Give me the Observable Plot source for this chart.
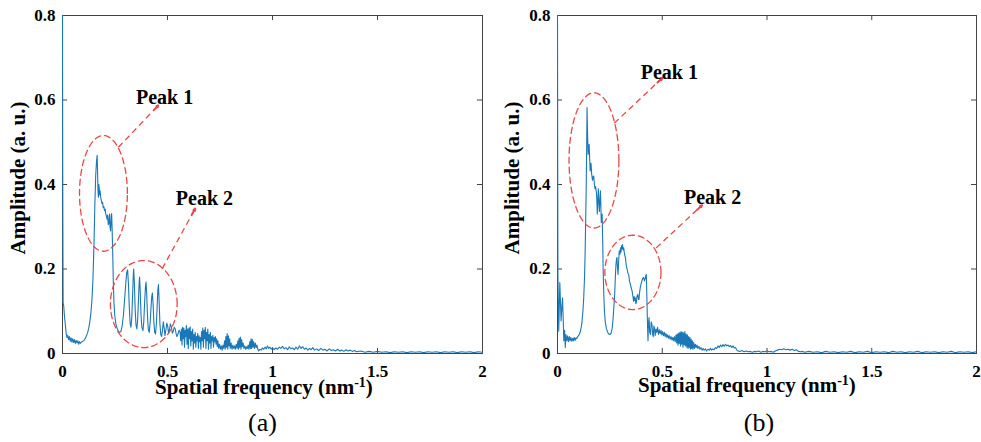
<!DOCTYPE html>
<html><head><meta charset="utf-8">
<script src="https://cdn.jsdelivr.net/npm/d3@7"></script>
<script src="https://cdn.jsdelivr.net/npm/@observablehq/plot@0.6"></script>
<style>
body{margin:0;background:#fff;}
#wrap{display:flex;width:981px;height:442px;}
#wrap svg{display:block;}
</style></head><body><div id="wrap"></div>
<script>
const xTicks = [0, 0.5, 1, 1.5, 2];
const yTicks = [0, 0.2, 0.4, 0.6, 0.8];
const panelTags = ["(a)", "(b)"];
const xTitle = "Spatial frequency (nm";
const xTitleSup = "-1";
const yTitle = "Amplitude (a. u.)";

// spectrum (a): [spatial frequency, amplitude]
const spectrumA = [
[0,0.80],[0.001,0.45],[0.003,0.12],[0.006,0.112],[0.009,0.09],[0.012,0.075],[0.015,0.06],[0.018,0.045],[0.021,0.038],
[0.025,0.043],[0.029,0.033],[0.033,0.040],[0.037,0.029],[0.041,0.037],[0.045,0.027],[0.049,0.035],[0.053,0.026],[0.057,0.033],
[0.061,0.024],[0.065,0.031],[0.069,0.025],[0.073,0.030],[0.077,0.022],[0.081,0.028],[0.085,0.024],[0.090,0.027],[0.095,0.028],
[0.100,0.030],[0.105,0.033],[0.110,0.037],[0.115,0.043],[0.120,0.050],[0.125,0.060],[0.130,0.075],[0.135,0.095],[0.140,0.125],
[0.145,0.175],[0.150,0.26],[0.154,0.35],[0.158,0.42],[0.162,0.455],[0.165,0.469],[0.167,0.43],[0.169,0.385],[0.171,0.37],
[0.173,0.40],[0.175,0.39],[0.177,0.375],[0.179,0.385],[0.182,0.37],[0.185,0.362],[0.188,0.355],[0.191,0.358],[0.194,0.345],
[0.197,0.348],[0.200,0.338],[0.203,0.342],[0.206,0.330],[0.209,0.325],[0.212,0.318],[0.215,0.328],[0.218,0.305],[0.221,0.31],
[0.224,0.33],[0.226,0.30],[0.229,0.29],[0.232,0.325],[0.234,0.331],[0.236,0.30],[0.239,0.24],[0.242,0.17],[0.245,0.12],
[0.249,0.09],[0.254,0.07],[0.260,0.06],[0.266,0.052],[0.272,0.05],[0.278,0.052],[0.284,0.065],[0.290,0.09],[0.296,0.13],
[0.302,0.170],[0.306,0.192],[0.310,0.198],[0.314,0.165],[0.318,0.11],[0.322,0.072],[0.326,0.062],[0.330,0.085],[0.334,0.14],
[0.337,0.185],[0.339,0.200],[0.342,0.17],[0.346,0.105],[0.350,0.068],[0.354,0.058],[0.358,0.08],[0.362,0.13],[0.365,0.168],
[0.367,0.181],[0.370,0.15],[0.374,0.09],[0.378,0.062],[0.383,0.054],[0.387,0.075],[0.391,0.12],[0.395,0.158],[0.398,0.169],
[0.401,0.14],[0.405,0.085],[0.409,0.056],[0.413,0.050],[0.417,0.07],[0.421,0.105],[0.425,0.135],[0.428,0.143],[0.431,0.12],
[0.435,0.075],[0.439,0.05],[0.443,0.046],[0.447,0.07],[0.451,0.115],[0.454,0.15],[0.457,0.163],[0.460,0.125],[0.464,0.07],
[0.468,0.045],[0.472,0.040],[0.476,0.055],[0.480,0.075],[0.484,0.06],[0.488,0.042],[0.492,0.055],[0.497,0.072],[0.501,0.065],
[0.505,0.048],[0.509,0.056],[0.514,0.070],[0.519,0.062],[0.523,0.048],[0.527,0.052],[0.532,0.062],[0.537,0.058],[0.541,0.047],
[0.545,0.04],[0.550,0.046],[0.555,0.055],[0.560,0.050],[0.563,0.030],[0.566,0.058],[0.569,0.020],[0.572,0.062],[0.575,0.035],
[0.578,0.060],[0.581,0.015],[0.584,0.055],[0.587,0.040],[0.590,0.066],[0.593,0.022],[0.596,0.058],[0.599,0.012],[0.602,0.060],
[0.605,0.035],[0.608,0.063],[0.611,0.018],[0.614,0.052],[0.617,0.030],[0.620,0.058],[0.623,0.010],[0.626,0.045],[0.629,0.025],
[0.632,0.050],[0.635,0.015],[0.638,0.040],[0.641,0.030],[0.644,0.047],[0.647,0.012],[0.650,0.042],[0.653,0.028],[0.656,0.038],
[0.659,0.010],[0.662,0.052],[0.665,0.030],[0.668,0.060],[0.671,0.015],[0.674,0.055],[0.677,0.035],[0.680,0.062],[0.683,0.012],
[0.686,0.050],[0.689,0.030],[0.692,0.058],[0.695,0.010],[0.698,0.045],[0.701,0.025],[0.704,0.050],[0.707,0.012],[0.710,0.040],
[0.713,0.030],[0.716,0.043],[0.719,0.015],[0.722,0.038],[0.725,0.028],[0.728,0.040],[0.731,0.022],[0.734,0.035],[0.737,0.016],
[0.740,0.030],[0.744,0.012],[0.748,0.022],[0.752,0.010],[0.756,0.018],[0.760,0.008],[0.764,0.020],[0.768,0.012],[0.772,0.030],
[0.775,0.010],[0.778,0.040],[0.781,0.015],[0.784,0.047],[0.787,0.010],[0.790,0.042],[0.793,0.018],[0.796,0.035],[0.799,0.012],
[0.803,0.025],[0.807,0.010],[0.811,0.020],[0.815,0.012],[0.819,0.018],[0.823,0.010],[0.827,0.022],[0.831,0.012],[0.835,0.030],
[0.838,0.010],[0.841,0.036],[0.844,0.014],[0.847,0.039],[0.850,0.010],[0.853,0.033],[0.856,0.016],[0.860,0.025],[0.864,0.012],
[0.868,0.018],[0.872,0.010],[0.876,0.016],[0.880,0.012],[0.884,0.020],[0.888,0.010],[0.892,0.028],[0.895,0.012],[0.898,0.035],
[0.901,0.012],[0.904,0.033],[0.907,0.015],[0.910,0.028],[0.914,0.012],[0.918,0.025],[0.922,0.014],[0.926,0.020],[0.930,0.010],
[0.934,0.006],[0.940,0.010],[0.946,0.008],[0.952,0.013],[0.958,0.010],[0.964,0.015],[0.970,0.011],[0.976,0.018],[0.982,0.012],
[0.988,0.015],[0.994,0.010],[1.000,0.014],[1.008,0.009],[1.016,0.013],[1.024,0.010],[1.032,0.015],[1.040,0.012],[1.048,0.017],
[1.056,0.011],[1.064,0.014],[1.072,0.009],[1.080,0.016],[1.088,0.011],[1.096,0.013],[1.104,0.009],[1.112,0.015],[1.120,0.010],
[1.128,0.018],[1.136,0.012],[1.144,0.016],[1.152,0.010],[1.160,0.013],[1.168,0.008],[1.176,0.012],[1.184,0.009],[1.192,0.014],
[1.200,0.008],[1.210,0.011],[1.220,0.007],[1.230,0.012],[1.240,0.008],[1.250,0.010],[1.260,0.006],[1.270,0.011],[1.280,0.007],
[1.290,0.009],[1.300,0.006],[1.310,0.010],[1.320,0.006],[1.330,0.008],[1.340,0.005],[1.350,0.009],[1.360,0.006],[1.370,0.008],
[1.380,0.005],[1.390,0.007],[1.400,0.004],[1.420,0.006],[1.440,0.003],[1.460,0.005],[1.480,0.003],[1.500,0.005],[1.520,0.003],
[1.540,0.004],[1.560,0.002],[1.580,0.004],[1.600,0.003],[1.620,0.004],[1.640,0.002],[1.660,0.004],[1.680,0.003],[1.700,0.004],
[1.720,0.002],[1.740,0.004],[1.760,0.003],[1.780,0.004],[1.800,0.002],[1.820,0.004],[1.840,0.003],[1.860,0.004],[1.880,0.002],
[1.900,0.004],[1.920,0.003],[1.940,0.004],[1.960,0.002],[1.980,0.004],[2.000,0.003]
];

// spectrum (b): [spatial frequency, amplitude]
const spectrumB = [
[0,0.80],[0.001,0.45],[0.002,0.187],[0.004,0.12],[0.006,0.053],[0.009,0.12],[0.011,0.168],[0.014,0.124],[0.017,0.077],
[0.021,0.11],[0.024,0.132],[0.027,0.085],[0.030,0.030],[0.034,0.055],[0.037,0.014],[0.040,0.045],[0.044,0.030],[0.048,0.042],
[0.052,0.028],[0.056,0.040],[0.060,0.030],[0.064,0.038],[0.068,0.029],[0.072,0.036],[0.076,0.030],[0.080,0.038],[0.084,0.031],
[0.088,0.037],[0.092,0.035],[0.096,0.040],[0.100,0.042],[0.105,0.046],[0.109,0.052],[0.113,0.062],[0.117,0.075],[0.121,0.098],
[0.125,0.13],[0.129,0.18],[0.132,0.24],[0.135,0.33],[0.137,0.39],[0.139,0.48],[0.141,0.582],[0.143,0.53],[0.146,0.471],
[0.149,0.49],[0.151,0.495],[0.154,0.455],[0.156,0.432],[0.158,0.445],[0.160,0.45],[0.163,0.425],[0.167,0.41],[0.170,0.418],
[0.173,0.42],[0.176,0.40],[0.179,0.39],[0.182,0.395],[0.186,0.38],[0.188,0.36],[0.190,0.33],[0.193,0.37],[0.195,0.39],
[0.198,0.35],[0.200,0.336],[0.203,0.37],[0.205,0.385],[0.207,0.35],[0.209,0.31],[0.211,0.32],[0.213,0.33],[0.216,0.26],
[0.218,0.195],[0.221,0.14],[0.224,0.10],[0.228,0.075],[0.233,0.06],[0.238,0.052],[0.244,0.046],[0.250,0.045],[0.256,0.048],
[0.261,0.06],[0.265,0.08],[0.269,0.11],[0.273,0.14],[0.276,0.18],[0.279,0.21],[0.282,0.225],[0.284,0.227],[0.286,0.205],
[0.289,0.187],[0.292,0.22],[0.295,0.243],[0.298,0.235],[0.301,0.25],[0.303,0.24],[0.306,0.255],[0.308,0.248],[0.310,0.258],
[0.313,0.245],[0.316,0.25],[0.320,0.235],[0.324,0.227],[0.328,0.21],[0.332,0.20],[0.336,0.19],[0.340,0.187],[0.344,0.17],
[0.348,0.164],[0.352,0.155],[0.356,0.148],[0.360,0.135],[0.363,0.124],[0.366,0.135],[0.369,0.125],[0.371,0.132],[0.374,0.118],
[0.376,0.12],[0.379,0.135],[0.383,0.14],[0.386,0.128],[0.389,0.128],[0.392,0.145],[0.395,0.156],[0.399,0.165],[0.403,0.172],
[0.407,0.178],[0.411,0.18],[0.415,0.172],[0.419,0.178],[0.422,0.185],[0.424,0.187],[0.427,0.124],[0.430,0.06],[0.432,0.03],
[0.434,0.07],[0.437,0.085],[0.440,0.05],[0.444,0.045],[0.447,0.075],[0.451,0.069],[0.454,0.045],[0.457,0.04],[0.460,0.065],
[0.463,0.06],[0.466,0.042],[0.470,0.058],[0.474,0.05],[0.478,0.062],[0.482,0.045],[0.486,0.056],[0.490,0.047],[0.494,0.055],
[0.498,0.044],[0.502,0.052],[0.506,0.042],[0.510,0.050],[0.514,0.040],[0.518,0.047],[0.522,0.038],[0.526,0.044],[0.530,0.036],
[0.534,0.042],[0.538,0.034],[0.542,0.040],[0.546,0.032],[0.550,0.038],[0.554,0.030],[0.558,0.040],[0.562,0.028],[0.566,0.044],
[0.569,0.025],[0.572,0.046],[0.575,0.020],[0.578,0.048],[0.581,0.024],[0.584,0.050],[0.587,0.018],[0.590,0.052],[0.593,0.022],
[0.596,0.050],[0.599,0.015],[0.602,0.049],[0.605,0.020],[0.608,0.052],[0.611,0.018],[0.614,0.046],[0.617,0.015],[0.620,0.044],
[0.623,0.012],[0.626,0.040],[0.629,0.014],[0.632,0.038],[0.635,0.010],[0.638,0.034],[0.641,0.012],[0.644,0.030],[0.647,0.010],
[0.650,0.026],[0.654,0.012],[0.658,0.022],[0.662,0.014],[0.666,0.020],[0.670,0.012],[0.675,0.017],[0.680,0.010],[0.685,0.014],
[0.690,0.008],[0.695,0.012],[0.700,0.008],[0.706,0.011],[0.712,0.006],[0.718,0.010],[0.724,0.008],[0.730,0.012],[0.736,0.008],
[0.742,0.011],[0.748,0.009],[0.754,0.014],[0.760,0.012],[0.766,0.018],[0.772,0.014],[0.778,0.020],[0.784,0.016],[0.790,0.021],
[0.796,0.017],[0.802,0.022],[0.808,0.018],[0.814,0.020],[0.820,0.016],[0.826,0.019],[0.832,0.014],[0.838,0.018],[0.844,0.013],
[0.850,0.014],[0.856,0.008],[0.862,0.006],[0.870,0.005],[0.880,0.007],[0.890,0.004],[0.900,0.006],[0.910,0.004],[0.920,0.005],
[0.930,0.003],[0.940,0.005],[0.950,0.004],[0.960,0.006],[0.970,0.003],[0.980,0.005],[0.990,0.004],[1.000,0.006],[1.010,0.004],
[1.020,0.005],[1.030,0.003],[1.040,0.006],[1.050,0.008],[1.060,0.010],[1.070,0.009],[1.080,0.011],[1.090,0.009],[1.100,0.010],
[1.110,0.008],[1.120,0.010],[1.130,0.007],[1.140,0.009],[1.150,0.005],[1.160,0.004],[1.170,0.005],[1.180,0.003],[1.200,0.005],
[1.220,0.003],[1.240,0.004],[1.260,0.002],[1.280,0.005],[1.300,0.003],[1.320,0.004],[1.340,0.002],[1.360,0.004],[1.380,0.003],
[1.400,0.005],[1.420,0.002],[1.440,0.004],[1.460,0.003],[1.480,0.005],[1.500,0.002],[1.520,0.004],[1.540,0.003],[1.560,0.004],
[1.580,0.002],[1.600,0.005],[1.620,0.003],[1.640,0.004],[1.660,0.002],[1.680,0.004],[1.700,0.003],[1.720,0.005],[1.740,0.002],
[1.760,0.004],[1.780,0.003],[1.800,0.004],[1.820,0.002],[1.840,0.004],[1.860,0.003],[1.880,0.005],[1.900,0.002],[1.920,0.004],
[1.940,0.003],[1.960,0.004],[1.980,0.002],[2.000,0.004]
];

// annotations (data units)
const ellipsesA = [{cx:0.195, cy:0.379, rx:0.114, ry:0.137}, {cx:0.387, cy:0.117, rx:0.159, ry:0.103}];
const arrowsA = [{x1:0.266, y1:0.488, x2:0.456, y2:0.587}, {x1:0.475, y1:0.201, x2:0.632, y2:0.343}];
const labelsA = [{x:0.486, y:0.606, text:"Peak 1"}, {x:0.676, y:0.367, text:"Peak 2"}];
const ellipsesB = [{cx:0.174, cy:0.457, rx:0.119, ry:0.160}, {cx:0.360, cy:0.192, rx:0.134, ry:0.088}];
const arrowsB = [{x1:0.271, y1:0.545, x2:0.500, y2:0.652}, {x1:0.471, y1:0.250, x2:0.690, y2:0.351}];
const labelsB = [{x:0.534, y:0.666, text:"Peak 1"}, {x:0.740, y:0.369, text:"Peak 2"}];

const lineColor = "#1a78b8";
const red = "#ea4646";
const serif = "'Liberation Serif', 'Times New Roman', serif";

function panel(o) {
  const ellipsePts = o.ellipses.flatMap((e, i) => d3.range(0, 97).map(k => {
    const t = k / 96 * 2 * Math.PI;
    return {id: i, x: e.cx + e.rx * Math.cos(t), y: e.cy + e.ry * Math.sin(t)};
  }));
  const heads = o.arrows.map(a => ({
    x1: a.x1 + (a.x2 - a.x1) * 0.9, y1: a.y1 + (a.y2 - a.y1) * 0.9, x2: a.x2, y2: a.y2
  }));
  const svg = Plot.plot({
    width: o.width, height: 442,
    marginLeft: o.marginLeft, marginRight: o.marginRight, marginTop: 15, marginBottom: 89,
    style: {fontFamily: serif, fontSize: "17px", fontWeight: "bold", color: "#000", background: "transparent", overflow: "visible"},
    x: {domain: [0, 2], ticks: xTicks, tickSize: 0, tickPadding: 11, tickFormat: d => String(d), label: null},
    y: {domain: [0, 0.8], ticks: yTicks, tickSize: 0, tickPadding: 7, tickFormat: d => String(d), label: null},
    marks: [
      Plot.ruleX(xTicks, {y1: 0, y2: 0.012, stroke: "#444"}),
      Plot.ruleX(xTicks, {y1: 0.788, y2: 0.8, stroke: "#444"}),
      Plot.ruleY(yTicks, {x1: 0, x2: 0.024, stroke: "#444"}),
      Plot.ruleY(yTicks, {x1: 1.976, x2: 2, stroke: "#444"}),
      Plot.frame({stroke: "#444"}),
      Plot.line(o.data, {x: d => d[0], y: d => d[1], stroke: lineColor, strokeWidth: 1.1}),
      Plot.line(ellipsePts, {x: "x", y: "y", z: "id", stroke: red, strokeWidth: 1.3, strokeDasharray: "6,4"}),
      Plot.link(o.arrows, {x1: "x1", y1: "y1", x2: "x2", y2: "y2", stroke: red, strokeWidth: 1.3, strokeDasharray: "6,4"}),
      Plot.arrow(heads, {x1: "x1", y1: "y1", x2: "x2", y2: "y2", stroke: red, strokeWidth: 2, headLength: 11, headAngle: 45}),
      Plot.text(o.labels, {x: "x", y: "y", text: "text", fontSize: 20, fontWeight: "bold", fill: "#000"})
    ]
  });
  const s = d3.select(svg);
  const xt = s.append("text").attr("x", o.xLabelX).attr("y", o.xLabelY).attr("text-anchor", "start")
    .attr("font-family", serif).attr("font-weight", "bold").attr("font-size", 21).attr("fill", "#000");
  xt.append("tspan").text(xTitle);
  xt.append("tspan").attr("font-size", 14).attr("dy", -7).text(xTitleSup);
  xt.append("tspan").attr("dy", 7).text(")");
  s.append("text").attr("transform", `translate(${o.yLabelX},178) rotate(-90)`)
    .attr("text-anchor", "middle").attr("font-family", serif).attr("font-weight", "bold")
    .attr("font-size", 21).attr("fill", "#000").text(yTitle);
  s.append("text").attr("x", o.tagX).attr("y", 431).attr("text-anchor", "middle")
    .attr("font-family", serif).attr("font-weight", "normal").attr("font-size", 26).attr("fill", "#000").text(o.tag);
  return svg;
}

const wrap = document.getElementById("wrap");
wrap.appendChild(panel({data: spectrumA, ellipses: ellipsesA, arrows: arrowsA, labels: labelsA,
  width: 490, marginLeft: 62, marginRight: 8, tag: panelTags[0], tagX: 262.5, yLabelX: 25, xLabelX: 155, xLabelY: 394}));
wrap.appendChild(panel({data: spectrumB, ellipses: ellipsesB, arrows: arrowsB, labels: labelsB,
  width: 491, marginLeft: 67, marginRight: 5, tag: panelTags[1], tagX: 269, yLabelX: 29, xLabelX: 148, xLabelY: 392}));
</script></body></html>
